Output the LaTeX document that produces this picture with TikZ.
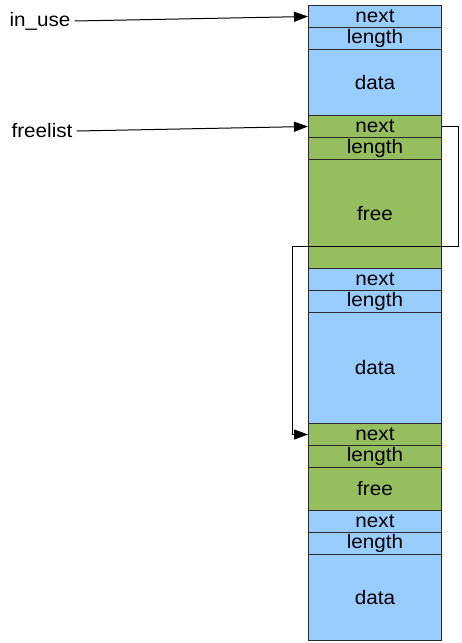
\documentclass[tikz,border=0pt]{standalone}
\usepackage{fontspec}
\setmainfont{Liberation Sans}
\usetikzlibrary{arrows.meta}
\definecolor{memblue}{HTML}{99CCFF}
\definecolor{memgreen}{HTML}{95BE5F}
\definecolor{edge}{HTML}{2A2A2A}
\newcommand\stretchtxt[1]{\scalebox{1.06}[1]{#1}}
\begin{document}
\begin{tikzpicture}[x=1pt,y=-1pt,
  cell/.style={draw=edge,line width=1pt,minimum width=133pt,inner sep=0pt,anchor=north west,
    font=\fontsize{19.5}{21}\selectfont},
  usedcell/.style={cell,fill=memblue},
  freecell/.style={cell,fill=memgreen},
  ptr/.style={draw=black,line width=1pt,-{Triangle[length=14pt,width=10pt]}},
  lbl/.style={font=\fontsize{19.5}{21}\selectfont,inner sep=4pt}]
\useasboundingbox (0,0) rectangle (461,643);
% block 1
\node[usedcell,minimum height=22pt] (n1) at (308,5) {\stretchtxt{next}};
\node[usedcell,minimum height=22pt] (l1) at (308,27) {\stretchtxt{length}};
\node[usedcell,minimum height=66pt] (d1) at (308,49) {\stretchtxt{data}};
% block 2
\node[freecell,minimum height=22pt] (n2) at (308,115) {\stretchtxt{next}};
\node[freecell,minimum height=22pt] (l2) at (308,137) {\stretchtxt{length}};
\node[freecell,minimum height=109pt] (f2) at (308,159) {\stretchtxt{free}};
% block 3
\node[usedcell,minimum height=22pt] (n3) at (308,268) {\stretchtxt{next}};
\node[usedcell,minimum height=22pt] (l3) at (308,290) {\stretchtxt{length}};
\node[usedcell,minimum height=111pt] (d3) at (308,312) {\stretchtxt{data}};
% block 4
\node[freecell,minimum height=22pt] (n4) at (308,423) {\stretchtxt{next}};
\node[freecell,minimum height=22pt] (l4) at (308,445) {\stretchtxt{length}};
\node[freecell,minimum height=43pt] (f4) at (308,467) {\stretchtxt{free}};
% block 5
\node[usedcell,minimum height=22pt] (n5) at (308,510) {\stretchtxt{next}};
\node[usedcell,minimum height=22pt] (l5) at (308,532) {\stretchtxt{length}};
\node[usedcell,minimum height=86pt] (d5) at (308,554) {\stretchtxt{data}};
% labels
\node[lbl] (inuse) at (40,21) {\stretchtxt{in\_use}};
\node[lbl] (freelist) at (42,131) {\stretchtxt{freelist}};
% pointers
\draw[ptr] (inuse.east) -- (n1.west);
\draw[ptr] (freelist.east) -- (n2.west);
\coordinate (c1) at (458,246);
\coordinate (c2) at (292,246);
\draw[ptr] (n2.east) -| (c1) -- (c2) |- (n4.west);
\end{tikzpicture}
\end{document}
